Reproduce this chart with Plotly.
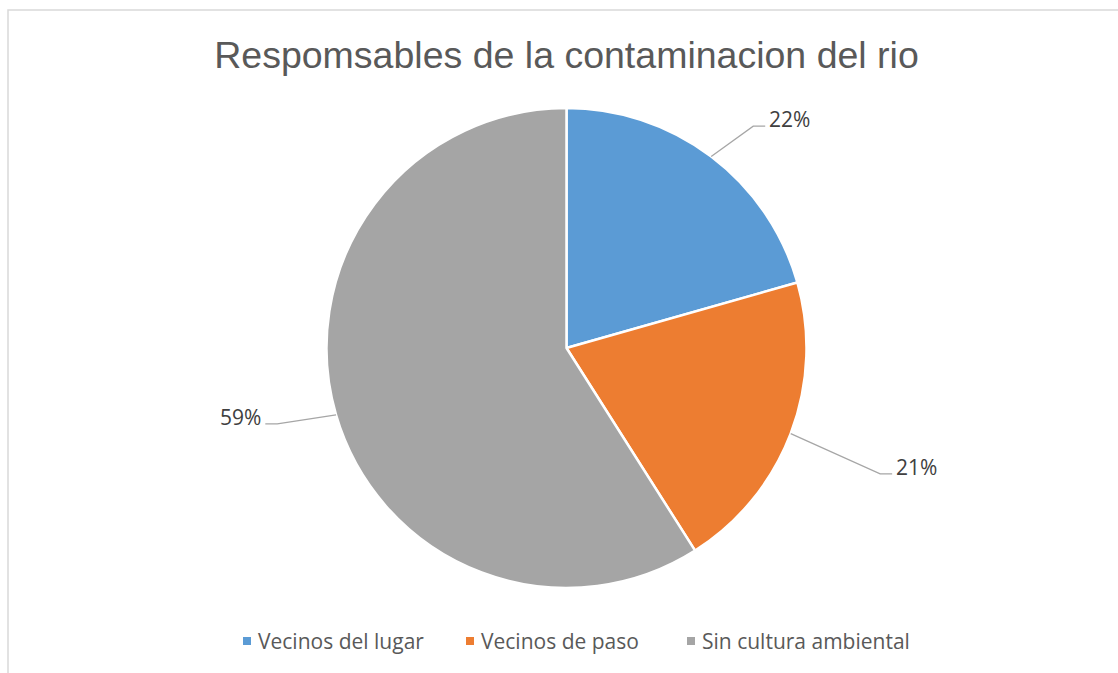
import math
import plotly.graph_objects as go

# ---- data ----
categories = ["Vecinos del lugar", "Vecinos de paso", "Sin cultura ambiental"]
values = [20.6, 20.4, 59.0]
label_texts = ["22%", "21%", "59%"]
title_text = "Respomsables de la contaminacion del rio"

# ---- style / layout constants ----
colors = ["#5B9BD5", "#ED7D31", "#A5A5A5"]
W, H = 1118, 673
CX, CY, R = 566.5, 348.0, 240.0          # pie centre and radius (px)
label_r = [290, 338, 299]                 # leader elbow radius (px)
label_dang = [3.0, 1.0, 1.5]              # elbow angle offset (deg)
HSEG = 12                                 # horizontal leader segment (px)
legend_x = [243, 466, 687]                # legend square left edges (px)
LEGEND_Y = 641                            # legend row centre (px)
SQ = 8                                    # legend square size (px)


def px(x):
    return x / W


def py(y):
    return 1 - y / H


fig = go.Figure(go.Pie(
    labels=categories,
    values=values,
    sort=False,
    direction="clockwise",
    rotation=0,
    textinfo="none",
    hoverinfo="label+percent",
    showlegend=False,
    marker=dict(colors=colors, line=dict(color="white", width=2.5)),
    domain=dict(x=[px(CX - R), px(CX + R)], y=[py(CY + R), py(CY - R)]),
))

# leader lines + labels computed from slice angles
total = sum(values)
shapes = []
annotations = []
cum = 0.0
for i, v in enumerate(values):
    mid = (cum + v / 2) / total * 360.0
    cum += v
    a = math.radians(mid)
    x0, y0 = CX + R * math.sin(a), CY - R * math.cos(a)
    ae = math.radians(mid + label_dang[i])
    x1, y1 = CX + label_r[i] * math.sin(ae), CY - label_r[i] * math.cos(ae)
    right = math.sin(a) > 0
    x2 = x1 + (HSEG if right else -HSEG)
    shapes.append(dict(
        type="path", xref="paper", yref="paper",
        path=f"M{px(x0)},{py(y0)} L{px(x1)},{py(y1)} L{px(x2)},{py(y1)}",
        line=dict(color="#A6A6A6", width=1.3),
    ))
    annotations.append(dict(
        xref="paper", yref="paper",
        x=px(x2 + (2 if right else -2)), y=py(y1 - 7),
        xanchor="left" if right else "right", yanchor="middle",
        text=label_texts[i], showarrow=False,
        font=dict(family="Open Sans", size=21, color="#404040"),
    ))

# legend (squares + text)
for i, name in enumerate(categories):
    lx = legend_x[i]
    shapes.append(dict(
        type="rect", xref="paper", yref="paper",
        x0=px(lx), x1=px(lx + SQ),
        y0=py(LEGEND_Y + SQ / 2), y1=py(LEGEND_Y - SQ / 2),
        fillcolor=colors[i], line=dict(width=0),
    ))
    annotations.append(dict(
        xref="paper", yref="paper",
        x=px(lx + SQ + 5), y=py(LEGEND_Y),
        xanchor="left", yanchor="middle",
        text=name, showarrow=False,
        font=dict(family="Open Sans", size=21, color="#595959"),
    ))

# chart area border
shapes.append(dict(
    type="rect", xref="paper", yref="paper",
    x0=px(8), x1=px(1130), y0=py(10), y1=py(690),
    line=dict(color="#D9D9D9", width=1.5), layer="below",
))

fig.update_layout(
    width=W, height=H,
    margin=dict(l=0, r=0, t=0, b=0),
    paper_bgcolor="white",
    plot_bgcolor="white",
    title=dict(
        text=title_text,
        x=px(566.5), xanchor="center",
        y=py(55), yanchor="middle", yref="container",
        font=dict(family="Liberation Sans", size=37.5, color="#595959"),
    ),
    showlegend=False,
    shapes=shapes,
    annotations=annotations,
)

fig.write_html(
    "out.html",
    config={"displayModeBar": False},
    post_script="document.body.style.margin='0px';"
                "document.body.style.overflow='hidden';",
)
